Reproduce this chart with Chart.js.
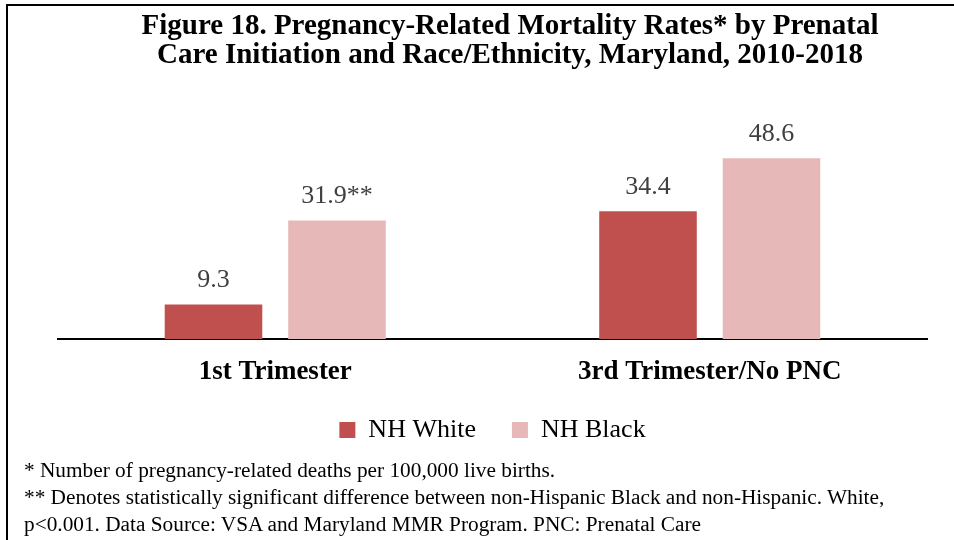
<!DOCTYPE html>
<html>
<head>
<meta charset="utf-8">
<script src="https://cdn.jsdelivr.net/npm/chart.js@4/dist/chart.umd.min.js"></script>
<style>
  html, body { margin: 0; padding: 0; background: #fff; }
  #wrap { position: relative; width: 954px; height: 540px; overflow: hidden; }
  #frame { position: absolute; left: 6px; top: 4px; width: 1000px; height: 600px; border-left: 2px solid #000; border-top: 2px solid #000; }
  #title { position: absolute; left: 66px; width: 888px; top: 10px; text-align: center; font-family: "Liberation Serif", "Times New Roman", serif; font-weight: bold; font-size: 29px; line-height: 29px; color: #000; }
  #notes { position: absolute; left: 24px; top: 457px; font-family: "Liberation Serif", "Times New Roman", serif; font-size: 21.3px; line-height: 27px; color: #000; white-space: nowrap; }
  canvas { position: absolute; left: 0; top: 0; }
</style>
</head>
<body>
<div id="wrap">
  <div id="frame"></div>
  <canvas id="c" width="954" height="540"></canvas>
  <div id="title">Figure 18. Pregnancy-Related Mortality Rates* by Prenatal<br>Care Initiation and Race/Ethnicity, Maryland, 2010-2018</div>
  <div id="notes">* Number of pregnancy-related deaths per 100,000 live births.<br>** Denotes statistically significant difference between non-Hispanic Black and non-Hispanic. White,<br>p&lt;0.001. Data Source: VSA and Maryland MMR Program. PNC: Prenatal Care</div>
</div>
<script>
const categories = ["1st Trimester", "3rd Trimester/No PNC"];
const nhWhite = [9.3, 34.4];
const nhBlack = [31.9, 48.6];
const whiteLabels = ["9.3", "34.4"];
const blackLabels = ["31.9**", "48.6"];
const seriesNames = ["NH White", "NH Black"];

const valueLabels = {
  id: 'valueLabels',
  afterDatasetsDraw(chart) {
    const ctx = chart.ctx;
    const texts = [whiteLabels, blackLabels];
    ctx.save();
    ctx.font = '26px "Liberation Serif", "Times New Roman", serif';
    ctx.fillStyle = '#404040';
    ctx.textAlign = 'center';
    ctx.textBaseline = 'alphabetic';
    chart.data.datasets.forEach((ds, di) => {
      chart.getDatasetMeta(di).data.forEach((bar, i) => {
        ctx.fillText(texts[di][i], bar.x, bar.y - 17);
      });
    });
    ctx.restore();
  }
};

new Chart(document.getElementById('c'), {
  type: 'bar',
  data: {
    labels: categories,
    datasets: [
      { label: seriesNames[0], data: nhWhite, backgroundColor: '#C0504D', categoryPercentage: 0.5685, barPercentage: 0.79 },
      { label: seriesNames[1], data: nhBlack, backgroundColor: '#E6B9B8', categoryPercentage: 0.5685, barPercentage: 0.79 }
    ]
  },
  options: {
    responsive: false,
    animation: false,
    layout: { padding: { left: 58, right: 27, top: 116, bottom: 87 } },
    plugins: {
      title: { display: false },
      tooltip: { enabled: false },
      legend: {
        position: 'bottom',
        labels: {
          font: { family: '"Liberation Serif", "Times New Roman", serif', size: 26 },
          color: '#000',
          boxWidth: 16,
          boxHeight: 16,
          padding: 36
        }
      }
    },
    scales: {
      x: {
        grid: { display: false, drawTicks: false },
        border: { display: true, color: '#000', width: 2 },
        ticks: {
          color: '#000',
          padding: 17,
          font: { family: '"Liberation Serif", "Times New Roman", serif', size: 27, weight: 'bold' }
        },
        afterFit(scale) { scale.height = 42; }
      },
      y: {
        display: false,
        min: 0,
        max: 60
      }
    }
  },
  plugins: [valueLabels]
});
</script>
</body>
</html>
